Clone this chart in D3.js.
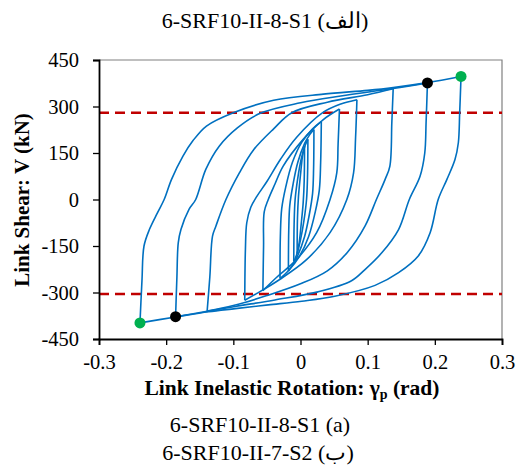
<!DOCTYPE html>
<html>
<head>
<meta charset="utf-8">
<script src="https://cdn.jsdelivr.net/npm/d3@7"></script>
<style>
  body { margin: 0; background: #fff; }
  svg { display: block; }
  text { font-family: "Liberation Serif", "Times New Roman", serif; fill: #000; }
</style>
</head>
<body>
<div class="chart"></div>
<script>
// Chart size and plot box
const width = 522;
const height = 475;
const box = { left: 99, right: 502, top: 60, bottom: 339 };

// Axis ticks
const xTicks = [-0.3, -0.2, -0.1, 0, 0.1, 0.2, 0.3];
const yTicks = [-450, -300, -150, 0, 150, 300, 450];

// Reference shear levels (red dashed lines)
const shearLimits = [280, -305];

// Hysteresis branches, [rotation, shear]; "up" = loading to positive peak,
// "down" = unloading back to the negative peak
const loop1Up = [[-0.239, -398], [-0.236, -260], [-0.233, -150], [-0.225, -97], [-0.213, -43], [-0.203, 0], [-0.192, 65], [-0.175, 140], [-0.16, 190], [-0.14, 237], [-0.1, 280], [-0.04, 320], [0.034, 340], [0.1, 352], [0.138, 361], [0.189, 377], [0.239, 397]];
const loop1Down = [[0.239, 397], [0.237, 280], [0.235, 183], [0.23, 129], [0.218, 65], [0.205, 0], [0.193, -107], [0.175, -183], [0.146, -236], [0.111, -277], [0.051, -312], [0.002, -328], [-0.048, -340], [-0.097, -352], [-0.137, -362], [-0.186, -379], [-0.239, -398]];

const loop2Up = [[-0.186, -378], [-0.184, -250], [-0.182, -140], [-0.178, -97], [-0.166, -32], [-0.156, 0], [-0.141, 97], [-0.121, 172], [-0.094, 231], [-0.06, 278], [0.0, 312], [0.06, 334], [0.138, 358], [0.189, 376]];
const loop2Down = [[0.189, 376], [0.187, 250], [0.185, 150], [0.178, 75], [0.162, 0], [0.146, -97], [0.121, -172], [0.096, -226], [0.076, -262], [0.026, -298], [-0.038, -324], [-0.097, -345], [-0.137, -360], [-0.186, -378]];

const loop3Up = [[-0.139, -360], [-0.135, -250], [-0.131, -118], [-0.126, -86], [-0.111, 0], [-0.091, 86], [-0.07, 160], [-0.04, 228], [-0.013, 280], [0.04, 314], [0.1, 338], [0.138, 357]];
const loop3Down = [[0.138, 357], [0.136, 250], [0.133, 107], [0.126, 65], [0.113, 0], [0.096, -86], [0.07, -170], [0.04, -230], [0.0, -272], [-0.05, -310], [-0.1, -342], [-0.139, -360]];

const loop4Up = [[-0.083, -325], [-0.082, -160], [-0.08, -75], [-0.074, -25], [-0.065, 10], [-0.05, 58], [-0.03, 129], [-0.006, 200], [0.033, 280], [0.06, 308], [0.084, 322]];
const loop4Down = [[0.084, 322], [0.082, 200], [0.079, 86], [0.069, 0], [0.044, -107], [0.009, -194], [-0.031, -258], [-0.065, -303], [-0.083, -325]];

const loop5Up = [[-0.056, -294], [-0.055, -150], [-0.054, -40], [-0.048, 0], [-0.038, 50], [-0.026, 107], [0.004, 194], [0.034, 258], [0.058, 292]];
const loop5Down = [[0.058, 292], [0.056, 180], [0.054, 86], [0.044, 0], [0.024, -107], [-0.006, -194], [-0.035, -250], [-0.056, -294]];

const loop6Up = [[-0.0305, -255], [-0.03, -120], [-0.028, -30], [-0.022, 40], [-0.012, 120], [0.002, 185], [0.018, 228], [0.031, 251]];
const loop6Down = [[0.031, 251], [0.03, 120], [0.028, 30], [0.022, -40], [0.012, -120], [-0.002, -185], [-0.018, -230], [-0.0305, -255]];

const loop7Up = [[-0.018, -231], [-0.0175, -100], [-0.016, -20], [-0.011, 50], [-0.004, 120], [0.006, 180], [0.014, 210], [0.02, 226]];
const loop7Down = [[0.02, 226], [0.0195, 100], [0.018, 20], [0.013, -50], [0.006, -120], [-0.004, -180], [-0.012, -212], [-0.018, -231]];

const loop8Up = [[-0.01, -200], [-0.0095, -80], [-0.008, 0], [-0.004, 70], [0.001, 130], [0.007, 175], [0.011, 194]];
const loop8Down = [[0.011, 194], [0.0105, 80], [0.009, 0], [0.005, -70], [0.0, -130], [-0.006, -180], [-0.01, -200]];

const loop9Up = [[-0.005, -175], [-0.0045, -60], [-0.003, 10], [0.0, 80], [0.003, 140], [0.006, 172]];
const loop9Down = [[0.006, 172], [0.0055, 60], [0.004, -10], [0.001, -80], [-0.002, -140], [-0.005, -175]];

const branches = [loop1Up, loop1Down, loop2Up, loop2Down, loop3Up, loop3Down,
  loop4Up, loop4Down, loop5Up, loop5Down, loop6Up, loop6Down,
  loop7Up, loop7Down, loop8Up, loop8Down, loop9Up, loop9Down];

// Marked peak points
const greenPoints = [[0.239, 397], [-0.239, -398]];
const blackPoints = [[0.189, 376], [-0.186, -378]];

const svg = d3.select('.chart')
  .append('svg')
  .attr('width', width)
  .attr('height', height);

const x = d3.scaleLinear().domain([-0.3, 0.3]).range([box.left, box.right]);
const y = d3.scaleLinear().domain([-450, 450]).range([box.bottom, box.top]);

// Plot area border (top and right)
svg.append('path')
  .attr('d', `M${box.left},${box.top}H${box.right}V${box.bottom}`)
  .attr('fill', 'none')
  .attr('stroke', '#808080')
  .attr('stroke-width', 1.2);

// Reference lines
svg.selectAll('.limit')
  .data(shearLimits)
  .enter()
  .append('line')
  .attr('class', 'limit')
  .attr('x1', box.left)
  .attr('x2', box.right)
  .attr('y1', d => y(d))
  .attr('y2', d => y(d))
  .attr('stroke', '#C00000')
  .attr('stroke-width', 2.5)
  .attr('stroke-dasharray', '10,6');

// Hysteresis curves
const line = d3.line()
  .x(d => x(d[0]))
  .y(d => y(d[1]))
  .curve(d3.curveCatmullRom.alpha(0.5));

svg.selectAll('.branch')
  .data(branches)
  .enter()
  .append('path')
  .attr('class', 'branch')
  .attr('d', line)
  .attr('fill', 'none')
  .attr('stroke', '#0070C0')
  .attr('stroke-width', 1.6);

// Peak markers
svg.selectAll('.green-pt')
  .data(greenPoints)
  .enter()
  .append('circle')
  .attr('cx', d => x(d[0]))
  .attr('cy', d => y(d[1]))
  .attr('r', 5.5)
  .attr('fill', '#00B050');

svg.selectAll('.black-pt')
  .data(blackPoints)
  .enter()
  .append('circle')
  .attr('cx', d => x(d[0]))
  .attr('cy', d => y(d[1]))
  .attr('r', 5.5)
  .attr('fill', '#000');

// Axes
const xAxis = svg.append('g')
  .attr('transform', `translate(0,${box.bottom})`)
  .call(d3.axisBottom(x).tickValues(xTicks).tickSize(6).tickPadding(8)
    .tickFormat(d => String(d)));

const yAxis = svg.append('g')
  .attr('transform', `translate(${box.left},0)`)
  .call(d3.axisLeft(y).tickValues(yTicks).tickSize(6).tickPadding(14)
    .tickFormat(d => String(d)));

[xAxis, yAxis].forEach(g => {
  g.select('.domain').attr('stroke', '#000').attr('stroke-width', 1.8);
  g.selectAll('.tick line').attr('stroke', '#000').attr('stroke-width', 1.3);
  g.selectAll('.tick text')
    .attr('font-family', '"Liberation Serif", serif')
    .attr('font-size', 20.5)
    .attr('fill', '#000');
});
xAxis.selectAll('.tick text').attr('dy', '0.8em');

// Titles and captions
svg.append('text')
  .attr('x', 265)
  .attr('y', 28)
  .attr('text-anchor', 'middle')
  .attr('font-size', 22)
  .text('6-SRF10-II-8-S1 (الف)');

svg.append('text')
  .attr('transform', 'translate(29,200) rotate(-90)')
  .attr('text-anchor', 'middle')
  .attr('font-size', 21)
  .attr('font-weight', 'bold')
  .text('Link Shear: V (kN)');

const xTitle = svg.append('text')
  .attr('x', 292)
  .attr('y', 395)
  .attr('text-anchor', 'middle')
  .attr('font-size', 21.5)
  .attr('font-weight', 'bold');
xTitle.append('tspan').text('Link Inelastic Rotation: γ');
xTitle.append('tspan').attr('dy', 4).attr('font-size', 14).text('p');
xTitle.append('tspan').attr('dy', -4).text(' (rad)');

svg.append('text')
  .attr('x', 260)
  .attr('y', 432)
  .attr('text-anchor', 'middle')
  .attr('font-size', 22)
  .text('6-SRF10-II-8-S1 (a)');

svg.append('text')
  .attr('x', 258)
  .attr('y', 460)
  .attr('text-anchor', 'middle')
  .attr('font-size', 22)
  .text('6-SRF10-II-7-S2 (ب)');
</script>
</body>
</html>
